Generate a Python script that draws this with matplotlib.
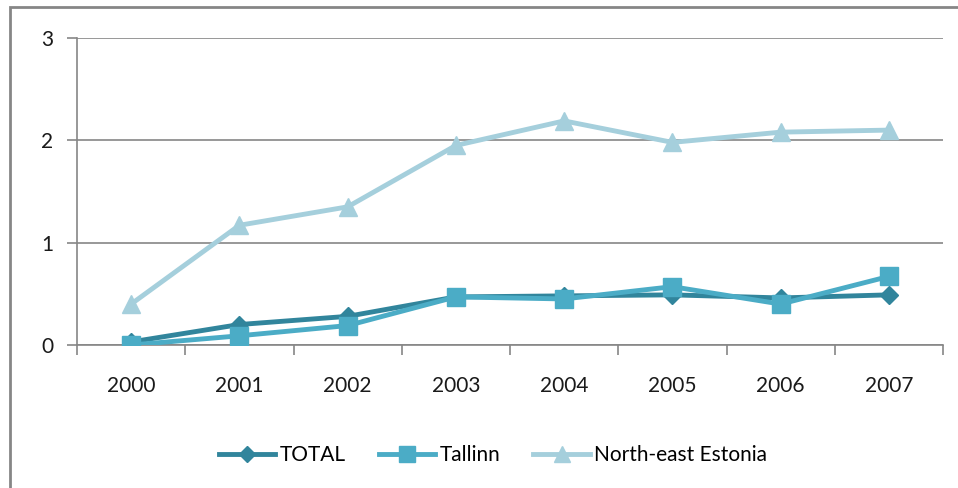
import matplotlib.pyplot as plt
from matplotlib.patches import Rectangle

# Chart data
years = ['2000', '2001', '2002', '2003', '2004', '2005', '2006', '2007']
total = [0.03, 0.20, 0.28, 0.47, 0.48, 0.49, 0.46, 0.49]
tallinn = [0.00, 0.09, 0.19, 0.47, 0.45, 0.57, 0.40, 0.67]
north_east = [0.40, 1.17, 1.35, 1.95, 2.19, 1.98, 2.08, 2.10]
series_names = ['TOTAL', 'Tallinn', 'North-east Estonia']

plt.rcParams['font.family'] = ['Lato', 'DejaVu Sans']

fig = plt.figure(figsize=(9.58, 4.88), dpi=100)
ax = fig.add_axes([77 / 958, 1 - 345 / 488, 866 / 958, 307 / 488])

# outer chart frame
fig.patches.append(Rectangle((10 / 958, -0.1), 1.0, 1 - 7 / 488 + 0.1,
                             transform=fig.transFigure, fill=False,
                             edgecolor='#868686', linewidth=2))

x = list(range(len(years)))
ax.plot(x, total, color='#31859C', lw=3.5, marker='D', ms=9, label=series_names[0], zorder=3)
ax.plot(x, tallinn, color='#4BACC6', lw=3.5, marker='s', ms=13, label=series_names[1], zorder=4)
ax.plot(x, north_east, color='#A5CFDC', lw=3.5, marker='^', ms=13, label=series_names[2], zorder=2)

ax.set_xlim(-0.5, len(years) - 0.5)
ax.set_ylim(0, 3)
ax.set_yticks([0, 1, 2, 3])
ax.set_xticks(x)
ax.set_xticklabels(years)
ax.set_xticks([i - 0.5 for i in range(len(years) + 1)], minor=True)
ax.tick_params(axis='x', which='major', length=0, pad=22, labelsize=15, labelcolor='#1a1a1a')
ax.tick_params(axis='x', which='minor', length=7, color='#868686', width=1.2)
ax.tick_params(axis='y', length=7, color='#868686', width=1.2, pad=10, labelsize=15,
               labelcolor='#1a1a1a')
ax.yaxis.grid(True, color='#868686', lw=1.2)
ax.set_axisbelow(True)
for s in ['top', 'right']:
    ax.spines[s].set_visible(False)
for s in ['left', 'bottom']:
    ax.spines[s].set_color('#868686')
    ax.spines[s].set_linewidth(1.2)

fig.legend(loc='center', bbox_to_anchor=(493 / 958, 1 - 455 / 488), ncol=3,
           frameon=False, fontsize=15, handlelength=2.7, handletextpad=0.2,
           columnspacing=1.6, markerscale=0.85)

fig.savefig('out.png', dpi=100)
